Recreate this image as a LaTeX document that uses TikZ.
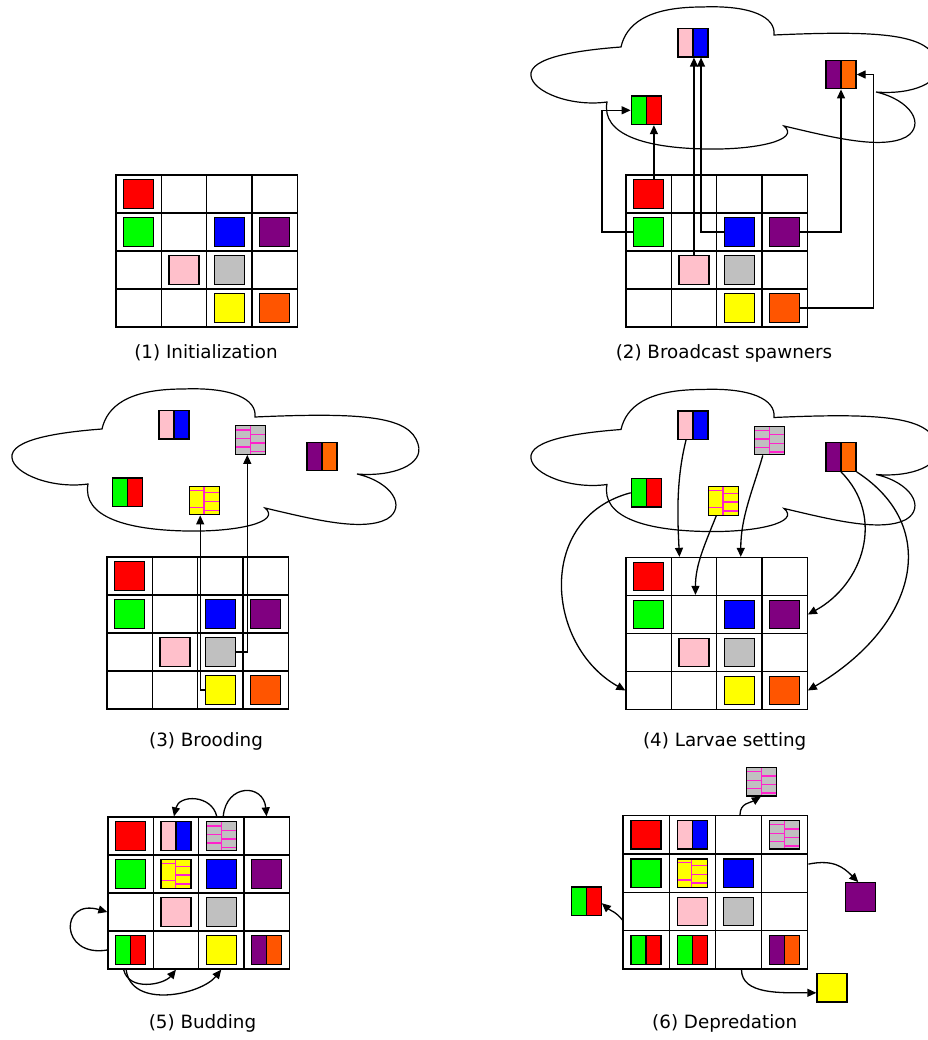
\documentclass[tikz,border=0pt]{standalone}
\usepackage{fontspec}
\setmainfont{DejaVu Sans}
\usetikzlibrary{arrows.meta}
\definecolor{CRed}{HTML}{FF0000}
\definecolor{CGreen}{HTML}{00FF00}
\definecolor{CBlue}{HTML}{0000FF}
\definecolor{CPurple}{HTML}{800080}
\definecolor{CPink}{HTML}{FFC0CB}
\definecolor{CSilver}{HTML}{C0C0C0}
\definecolor{CYellow}{HTML}{FFFF00}
\definecolor{COrange}{HTML}{FF5500}
\definecolor{COrangeLt}{HTML}{FF6600}
\definecolor{CMagenta}{HTML}{FF22CC}

\newcommand{\cellw}{45.3}
\newcommand{\cellh}{38}

% 4x4 reef, cells named <prefix><row><col>
\newcommand{\gridat}[3]{%
  \coordinate (grid#1) at (#2,#3);
  \foreach \ri in {0,...,3}{\foreach \ci in {0,...,3}{%
    \node[cellbox] (#1\ri\ci) at ({#2+(\ci+0.5)*\cellw},{#3+(\ri+0.5)*\cellh}) {};}}}

% coral squares
\newcommand{\colsq}[3]{\node[sqbox,fill=#3] (#1) at (#2) {};}
\newcommand{\twosq}[4]{\node[sqbox,path picture={%
    \fill[#3] (path picture bounding box.north west) rectangle (path picture bounding box.south);
    \fill[#4] (path picture bounding box.north) rectangle (path picture bounding box.south east);
    \draw[line width=1.3pt] (path picture bounding box.north) -- (path picture bounding box.south);}] (#1) at (#2) {};}
\newcommand{\broodsq}[6]{\node[sqbox,fill=#3,path picture={%
    \foreach \yy in {#4}
      \draw[brick] ([shift={(-16,\yy)}]path picture bounding box.center) -- ([shift={(#6,\yy)}]path picture bounding box.center);
    \foreach \yy in {#5}
      \draw[brick] ([shift={(#6,\yy)}]path picture bounding box.center) -- ([shift={(16,\yy)}]path picture bounding box.center);
    \draw[brick] ([shift={(#6,-16)}]path picture bounding box.center) -- ([shift={(#6,16)}]path picture bounding box.center);}] (#1) at (#2) {};}

% starting reef
\newcommand{\basecells}[1]{%
  \colsq{#1red}{#100}{CRed}
  \colsq{#1green}{#110}{CGreen}
  \colsq{#1blue}{#112}{CBlue}
  \colsq{#1purple}{#113}{CPurple}
  \colsq{#1pink}{#121}{CPink}
  \colsq{#1gray}{#122}{CSilver}
  \colsq{#1yellow}{#132}{CYellow}
  \colsq{#1orange}{#133}{COrange}}

% the water above the reef
\newcommand{\reefcloud}[1]{%
  \draw[cloudline,shift={(grid#1)}] (-5,-128)
    .. controls (-45,-125) and (-98,-118) .. (-95,-99)
    .. controls (-93,-83) and (-55,-68) .. (-19,-73)
    .. controls (-25,-40) and (20,-27) .. (80,-26)
    .. controls (130,-25) and (175,-35) .. (158,-49)
    .. controls (205,-38) and (255,-25) .. (280,-38)
    .. controls (300,-50) and (285,-75) .. (250,-83)
    .. controls (285,-80) and (318,-92) .. (311,-113)
    .. controls (303,-140) and (260,-145) .. (148,-140)
    .. controls (150,-158) and (125,-170) .. (76,-168)
    .. controls (20,-168) and (0,-150) .. (-5,-128) -- cycle;}
\newcommand{\cloudnodes}[1]{%
  \twosq{#1pb}{[shift={(67,-132.3)}]grid#1}{CPink}{CBlue}
  \twosq{#1gr}{[shift={(20.3,-64.7)}]grid#1}{CGreen}{CRed}
  \twosq{#1po}{[shift={(215,-100.5)}]grid#1}{CPurple}{COrangeLt}}

\begin{document}
\begin{tikzpicture}[x=1pt,y=-1pt,
  cellbox/.style={draw,line width=1.3pt,minimum width=\cellw pt,minimum height=\cellh pt,inner sep=0pt},
  sqbox/.style={draw,line width=1.3pt,minimum width=30pt,minimum height=28.5pt,inner sep=0pt},
  brick/.style={draw=CMagenta,line width=1.3pt},
  cloudline/.style={line width=1.2pt},
  arr/.style={-{Triangle[length=9pt,width=8pt]},line width=1.3pt},
  caption/.style={anchor=base,font=\fontsize{18.3}{21}\selectfont}]
\useasboundingbox (0,0) rectangle (927,1040);

% (1) Initialization
\gridat{A}{116}{175}
\basecells{A}
\node[caption] (capA) at (206,358.5) {(1) Initialization};

% (2) Broadcast spawners
\gridat{B}{626}{175}
\basecells{B}
\reefcloud{B}
\cloudnodes{B}
\coordinate (BgrR) at ([xshift=7.6pt]Bgr.south);
\draw[arr] (Bred.north -| BgrR) -- (BgrR);
\draw[arr] (Bgreen.west) -- ++(-30.95,0) |- (Bgr.west);
\draw[arr] (Bpink.north) -- (Bpink.north |- Bpb.south);
\draw[arr] (Bblue.west) -| ([xshift=8pt]Bpb.south);
\draw[arr] (Bpurple.east) -| (Bpo.south);
\draw[arr] (Borange.east) -- ++(73.15,0) |- (Bpo.east);
\node[caption] (capB) at (724,358.5) {(2) Broadcast spawners};

% (3) Brooding
\gridat{C}{107}{557}
\basecells{C}
\reefcloud{C}
\cloudnodes{C}
\broodsq{Chg}{[shift={(143.3,-117)}]gridC}{CSilver}{-10,-1.4,7.1}{-5.7,2.85,11.4}{0}
\broodsq{Chy}{[shift={(97.7,-56.5)}]gridC}{CYellow}{-10.3,6.8}{-7.7,1.1,9.97}{-0.6}
\draw[arr] (Cyellow.west) -| ([xshift=-4.5pt]Chy.south);
\draw[arr] (Cgray.east) -| ([xshift=-3pt]Chg.south);
\node[caption] (capC) at (206,746.7) {(3) Brooding};

% (4) Larvae setting
\gridat{D}{626}{557.5}
\basecells{D}
\reefcloud{D}
\cloudnodes{D}
\broodsq{Dhg}{[shift={(143.3,-117)}]gridD}{CSilver}{-10,-1.4,7.1}{-5.7,2.85,11.4}{0}
\broodsq{Dhy}{[shift={(97.7,-56.5)}]gridD}{CYellow}{-10.3,6.8}{-7.7,1.1,9.97}{-0.6}
\draw[arr] ([xshift=-7pt]Dpb.south) .. controls +(-10,40) and +(-2,-40) .. ([xshift=-14.5pt]D01.north);
\draw[arr] ([xshift=-6.5pt]Dhg.south) .. controls +(-10,35) and +(0,-40) .. ([xshift=1.5pt]D02.north);
\draw[arr] ([xshift=-7.5pt]Dhy.south) .. controls +(-12,30) and +(0,-30) .. ([xshift=1.5pt]D11.north);
\draw[arr] (Dgr.west) .. controls +(-95,25) and +(-80,-45) .. (D30.west);
\draw[arr] (Dpo.south) .. controls +(45,45) and +(55,-30) .. (D13.east);
\draw[arr] (Dpo.south east) .. controls +(85,55) and +(110,-65) .. (D33.east);
\node[caption] (capD) at (724.7,746.7) {(4) Larvae setting};

% (5) Budding
\gridat{E}{108}{817}
\colsq{Ered}{E00}{CRed}
\twosq{Epb}{E01}{CPink}{CBlue}
\broodsq{Ehg}{E02}{CSilver}{-10,-1.4,7.1}{-5.7,2.85,11.4}{0}
\colsq{Egreen}{E10}{CGreen}
\broodsq{Ehy}{E11}{CYellow}{-10.3,6.8}{-7.7,1.1,9.97}{-0.6}
\colsq{Eblue}{E12}{CBlue}
\colsq{Epurple}{E13}{CPurple}
\colsq{Epink}{E21}{CPink}
\colsq{Egray}{E22}{CSilver}
\twosq{Egr}{E30}{CGreen}{CRed}
\colsq{Eyellow}{E32}{CYellow}
\twosq{Epo}{E33}{CPurple}{COrange}
\draw[arr] ([xshift=-4.5pt]E02.north) .. controls +(-5,-22) and +(5,-22) .. ([xshift=-2pt]E01.north);
\draw[arr] ([xshift=2pt]E02.north) .. controls +(3,-33) and +(-3,-33) .. (E03.north);
\draw[arr] (E30.west) .. controls +(-48,8) and +(-48,-14) .. (E20.west);
\draw[arr] ([xshift=-7pt]E30.south) .. controls +(5,22) and +(-12,15) .. (E31.south);
\draw[arr] ([xshift=-4.5pt]E30.south) .. controls +(5,40) and +(-20,25) .. (E32.south);
\node[caption] (capE) at (202.5,1028.3) {(5) Budding};

% (6) Depredation
\renewcommand{\cellw}{46.2}
\renewcommand{\cellh}{38.4}
\gridat{F}{623}{815.5}
\colsq{Fred}{F00}{CRed}
\twosq{Fpb}{F01}{CPink}{CBlue}
\broodsq{Fhgin}{F03}{CSilver}{-10,-1.4,7.1}{-5.7,2.85,11.4}{0}
\colsq{Fgreen}{F10}{CGreen}
\broodsq{Fhy}{F11}{CYellow}{-10.3,6.8}{-7.7,1.1,9.97}{-0.6}
\colsq{Fblue}{F12}{CBlue}
\colsq{Fpink}{F21}{CPink}
\colsq{Fgray}{F22}{CSilver}
\twosq{Fgrin}{F30}{CGreen}{CRed}
\twosq{Fgrb}{F31}{CGreen}{CRed}
\twosq{Fpo}{F33}{CPurple}{COrange}
\broodsq{Fhg}{[shift={(138.8,-33.8)}]gridF}{CSilver}{-10,-1.4,7.1}{-5.7,2.85,11.4}{0}
\colsq{Fpu}{[shift={(237.3,81.5)}]gridF}{CPurple}
\twosq{Fgr}{[shift={(-36.8,85.7)}]gridF}{CGreen}{CRed}
\colsq{Fye}{[shift={(209,172.3)}]gridF}{CYellow}
\draw[arr] ([xshift=1.5pt]F02.north) .. controls +(0,-12) and +(-10,6) .. ([xshift=-1pt]Fhg.south);
\draw[arr] ([yshift=9pt]F13.east) .. controls +(25,-5) and +(-15,-15) .. ([xshift=-2pt]Fpu.north);
\draw[arr] ([yshift=-8.5pt]F20.west) .. controls +(-6,-8) and +(8,7) .. ([yshift=-2pt]Fgr.east);
\draw[arr] ([xshift=3pt]F32.south) .. controls +(0,25) and +(-35,0) .. ([yshift=-5pt]Fye.west);
\node[caption] (capF) at (724.7,1028.3) {(6) Depredation};
\end{tikzpicture}
\end{document}
